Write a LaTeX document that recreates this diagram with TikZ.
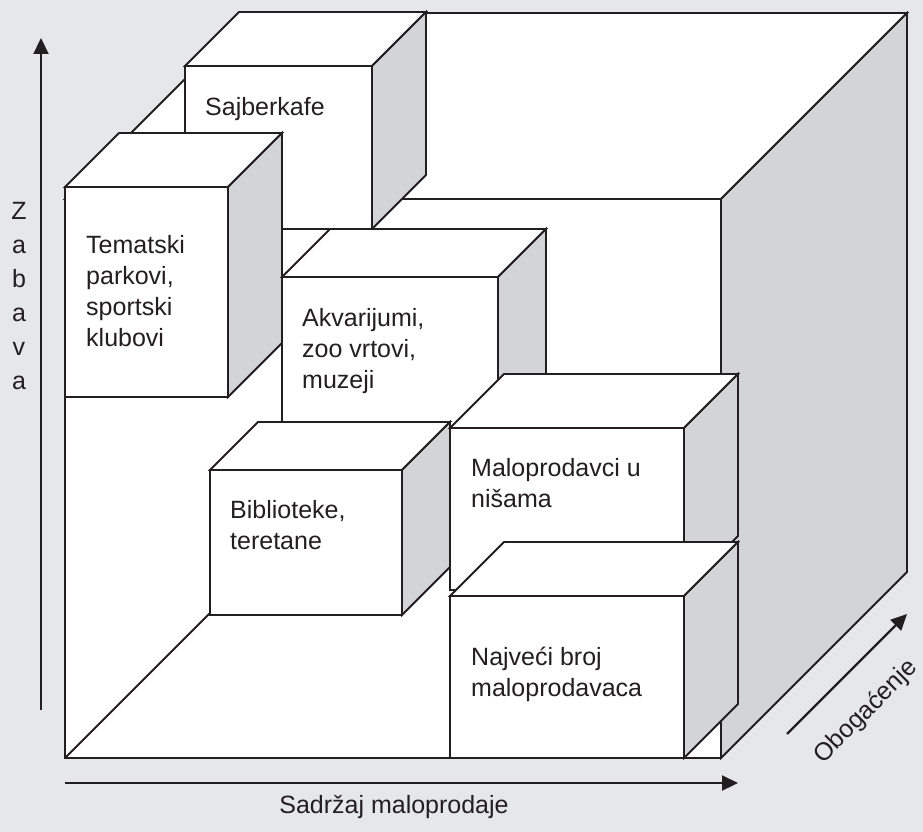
\documentclass[tikz,border=0pt]{standalone}
\usepackage{fontspec}
\setmainfont{Liberation Sans}
\usetikzlibrary{arrows.meta}
\definecolor{Pozadina}{HTML}{E6E7E9}
\definecolor{Bok}{HTML}{D3D4D6}
\definecolor{Linija}{HTML}{231F20}

% kutija: x1, y1, x2, y2 (prednja strana), dubina
\newcommand{\kutija}[5]{%
  \draw[prednja] (#1,#2) -- (#1+#5,#2-#5) -- (#3+#5,#2-#5) -- (#3,#2) -- cycle;
  \draw[bocna] (#3,#2) -- (#3+#5,#2-#5) -- (#3+#5,#4-#5) -- (#3,#4) -- cycle;
  \draw[prednja] (#1,#2) rectangle (#3,#4);
}

\begin{document}
\begin{tikzpicture}[x=1pt, y=-1pt, every node/.style={font=\fontsize{25}{31}\selectfont, inner sep=0pt}]
  \tikzstyle{prednja}=[draw=Linija, fill=white, line width=1.8pt]
  \tikzstyle{bocna}=[draw=Linija, fill=Bok, line width=1.8pt]
  \tikzstyle{oznaka}=[anchor=north west, align=left, text=Linija]
  \tikzstyle{strelica}=[-{Triangle[length=16pt, width=15pt]}, line width=2.2pt, color=Linija]

  \fill[Pozadina] (0,0) rectangle (923,832);
  \useasboundingbox (0,0) rectangle (923,832);

  % velika kocka
  \draw[prednja] (65,199) -- (251,13) -- (907,13) -- (721,199) -- cycle;
  \draw[bocna] (721,199) -- (907,13) -- (907,572) -- (721,758) -- cycle;
  \draw[prednja] (65,199) rectangle (721,758);
  \draw[prednja] (65,758) -- (251,572);

  % kutije
  \kutija{185}{66}{372}{229}{54}
  \node[oznaka] (sajber) at (205,97) {Sajberkafe};

  \kutija{65}{187}{228}{397}{54}
  \node[oznaka] (parkovi) at (86,235) {Tematski\\parkovi,\\sportski\\klubovi};

  \kutija{282}{277}{498}{440}{48}
  \node[oznaka] (akvarij) at (302,308) {Akvarijumi,\\zoo vrtovi,\\muzeji};

  \kutija{210}{470}{402}{615}{48}
  \node[oznaka] (biblio) at (230,500) {Biblioteke,\\teretane};

  \kutija{450}{428}{684}{590}{54}
  \node[oznaka] (nise) at (471,458) {Maloprodavci u\\nišama};

  \kutija{450}{596}{684}{758}{54}
  \node[oznaka] (najveci) at (471,647) {Najveći broj\\maloprodavaca};

  % ose
  \coordinate (zabavaPoc) at (41,710);
  \coordinate (zabavaKraj) at (41,38);
  \coordinate (sadrzajPoc) at (65,783);
  \coordinate (sadrzajKraj) at (738,783);
  \coordinate (obogPoc) at (787,734);
  \coordinate (obogKraj) at (907,614);
  \draw[strelica] (zabavaPoc) -- (zabavaKraj);
  \draw[strelica] (sadrzajPoc) -- (sadrzajKraj);
  \draw[strelica] (obogPoc) -- (obogKraj);

  \node[align=center, anchor=north, font=\fontsize{25}{34}\selectfont, text=Linija] (zabava) at (19,202) {Z\\a\\b\\a\\v\\a};
  \node[anchor=base, text=Linija] (sadrzaj) at (394,813) {Sadržaj maloprodaje};
  \node[rotate=45, text=Linija] (obogacenje) at (866,712) {Obogaćenje};
\end{tikzpicture}
\end{document}
